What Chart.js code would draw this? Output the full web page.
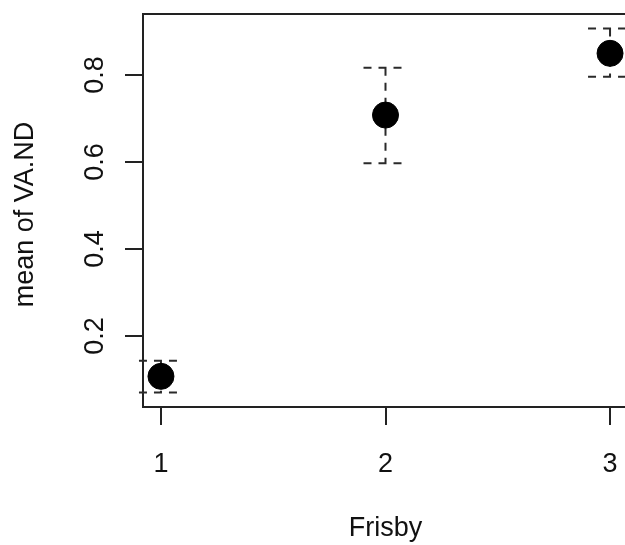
<!DOCTYPE html>
<html lang="en">
<head>
  <meta charset="UTF-8">
  <title>mean of VA.ND by Frisby</title>
  <style>
    html, body {
      margin: 0;
      padding: 0;
      background: #fff;
      overflow: hidden;
    }
  </style>
  <script src="https://cdn.jsdelivr.net/npm/chart.js"></script>
</head>
<body>
  <canvas id="meanChart" width="628" height="545"></canvas>

  <script>
    // data
    const frisby = [1, 2, 3];
    const meanVA = [0.107, 0.708, 0.850];
    const upperVA = [0.143, 0.817, 0.907];
    const lowerVA = [0.070, 0.597, 0.796];
    const xTicks = [1, 2, 3];
    const yTicks = [0.2, 0.4, 0.6, 0.8];
    const yTickLabels = ['0.2', '0.4', '0.6', '0.8'];

    const FONT = '27px "Liberation Sans", Arial, sans-serif';
    const INK = '#222';

    // box, dashed error bars, rotated labels (R style)
    const rPlot = {
      id: 'rPlot',
      beforeDatasetsDraw(chart) {
        const { ctx, chartArea: a, scales: { x, y } } = chart;
        ctx.save();
        ctx.strokeStyle = INK;
        ctx.lineWidth = 2;
        ctx.strokeRect(a.left, a.top, a.right - a.left, a.bottom - a.top);

        ctx.setLineDash([8, 7]);
        ctx.strokeStyle = '#2a2a2a';
        frisby.forEach((f, i) => {
          const px = x.getPixelForValue(f);
          const top = y.getPixelForValue(upperVA[i]);
          const bot = y.getPixelForValue(lowerVA[i]);
          ctx.beginPath();
          ctx.moveTo(px, top);
          ctx.lineTo(px, bot);
          ctx.moveTo(px - 22, top);
          ctx.lineTo(px + 22, top);
          ctx.moveTo(px - 22, bot);
          ctx.lineTo(px + 22, bot);
          ctx.stroke();
        });
        ctx.restore();
      },
      afterDraw(chart) {
        const { ctx, chartArea: a, scales: { x, y } } = chart;
        ctx.save();
        ctx.fillStyle = '#111';
        ctx.font = FONT;
        ctx.textAlign = 'center';
        ctx.textBaseline = 'alphabetic';

        xTicks.forEach(v => {
          ctx.fillText(String(v), x.getPixelForValue(v), 472);
        });
        ctx.fillText('Frisby', x.getPixelForValue(2), 536);

        yTicks.forEach((v, i) => {
          ctx.save();
          ctx.translate(103, y.getPixelForValue(v));
          ctx.rotate(-Math.PI / 2);
          ctx.fillText(yTickLabels[i], 0, 0);
          ctx.restore();
        });

        ctx.translate(33, (a.top + a.bottom) / 2 + 4);
        ctx.rotate(-Math.PI / 2);
        ctx.fillText('mean of VA.ND', 0, 0);
        ctx.restore();
      }
    };

    new Chart(document.getElementById('meanChart'), {
      type: 'scatter',
      data: {
        datasets: [{
          label: 'mean of VA.ND',
          data: frisby.map((f, i) => ({ x: f, y: meanVA[i] })),
          backgroundColor: '#000',
          borderColor: '#000',
          pointRadius: 13,
          pointHoverRadius: 13
        }]
      },
      options: {
        responsive: false,
        animation: false,
        layout: { autoPadding: false, padding: { top: 14, left: 0, right: 0, bottom: 0 } },
        plugins: {
          legend: { display: false },
          tooltip: { enabled: false }
        },
        scales: {
          x: {
            type: 'linear',
            min: 0.92,
            max: 3.08,
            afterBuildTicks: s => { s.ticks = xTicks.map(v => ({ value: v })); },
            afterFit: s => { s.height = 138; s.paddingLeft = 0; s.paddingRight = 0; },
            ticks: { display: false },
            border: { display: false },
            grid: { drawOnChartArea: false, drawTicks: true, tickLength: 18, color: INK, lineWidth: 2 }
          },
          y: {
            min: 0.0365,
            max: 0.9405,
            afterBuildTicks: s => { s.ticks = yTicks.map(v => ({ value: v })); },
            afterFit: s => { s.width = 143; s.paddingTop = 0; s.paddingBottom = 0; },
            ticks: { display: false },
            border: { display: false },
            grid: { drawOnChartArea: false, drawTicks: true, tickLength: 18, color: INK, lineWidth: 2 }
          }
        }
      },
      plugins: [rPlot]
    });
  </script>
</body>
</html>
